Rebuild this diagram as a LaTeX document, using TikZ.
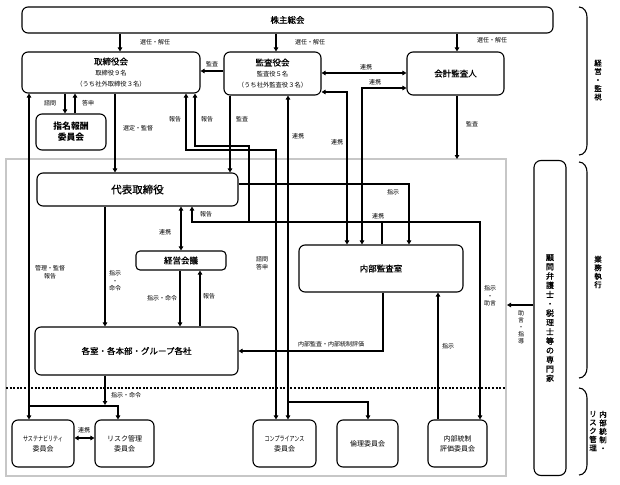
\documentclass[tikz,border=0pt]{standalone}
\usepackage{fontspec}
\setmainfont{Noto Sans CJK JP}
\newfontfamily\narrowjp{Noto Sans CJK JP}[FakeStretch=0.72]
\newfontfamily\semijp{Noto Sans CJK JP}[FakeBold=0.8]
\usetikzlibrary{arrows.meta}
\begin{document}
\begin{tikzpicture}[x=1pt,y=-1pt,
  box/.style={draw, line width=1.1pt, rounded corners=6pt, align=center, inner sep=0pt},
  lab/.style={font=\fontsize{6}{7.5}\selectfont, inner sep=0pt, align=center},
  vlab/.style={inner sep=0pt, align=center},
  ln/.style={line width=1.1pt},
  arr/.style={line width=1.1pt, -{Triangle[length=4pt,width=4.5pt]}},
  darr/.style={line width=1.1pt, {Triangle[length=4pt,width=4.5pt]}-{Triangle[length=4pt,width=4.5pt]}},
  ttl/.style={font=\semijp\fontsize{8.5}{10}\selectfont},
  cmt/.style={font=\fontsize{7}{10}\selectfont}]
\useasboundingbox (0,0) rectangle (620,484);

% frame and separator
\draw[black!22, line width=1.5pt] (6,159) rectangle (506,476);
\draw[line width=2pt, dash pattern=on 2pt off 1.6pt] (6,388) -- (506,388);

% nodes
\node[box, minimum width=531pt, minimum height=26pt, ttl] (sh) at (287.5,20) {株主総会};
\node[box, minimum width=178pt, minimum height=41pt] (bod) at (111,72.5)
  {{\semijp\fontsize{8.5}{10}\selectfont 取締役会}\\[-1pt]{\fontsize{6.3}{8}\selectfont 取締役９名}\\[-1pt]{\fontsize{6.3}{8}\selectfont （うち社外取締役３名）}};
\node[box, minimum width=97pt, minimum height=43pt] (kansa) at (272.5,73.5)
  {{\semijp\fontsize{8.5}{10}\selectfont 監査役会}\\[-1pt]{\fontsize{6.3}{8}\selectfont 監査役５名}\\[-1pt]{\fontsize{6.3}{8}\selectfont （うち社外監査役３名）}};
\node[box, minimum width=97pt, minimum height=43pt, ttl] (kaikei) at (455.5,73.5) {会計監査人};
\node[box, minimum width=70pt, minimum height=36pt, font=\fontsize{8.8}{11}\selectfont\bfseries] (shimei) at (71,132) {指名報酬\\委員会};
\node[box, minimum width=201pt, minimum height=33pt, font=\semijp\fontsize{10.5}{12}\selectfont] (dai) at (137.5,189.5) {代表取締役};
\node[box, minimum width=90pt, minimum height=19pt, rounded corners=4pt, ttl] (keiei) at (181,260.5) {経営会議};
\node[box, minimum width=203pt, minimum height=48pt, ttl] (kak) at (136.5,351) {各室・各本部・グループ各社};
\node[box, minimum width=164pt, minimum height=47pt, ttl] (naibu) at (381,268.5) {内部監査室};
\node[box, minimum width=62pt, minimum height=47pt, cmt] (sus) at (43,443.5) {{\narrowjp サステナビリティ}\\委員会};
\node[box, minimum width=59pt, minimum height=47pt, cmt] (risk) at (124.5,443.5) {リスク管理\\委員会};
\node[box, minimum width=63pt, minimum height=47pt, cmt] (comp) at (284.5,443.5) {{\narrowjp コンプライアンス}\\委員会};
\node[box, minimum width=61pt, minimum height=47pt, cmt] (rinri) at (367.5,443.5) {倫理委員会};
\node[box, minimum width=59pt, minimum height=47pt, cmt] (naitou) at (457.5,443.5) {内部統制\\評価委員会};
\node[box, minimum width=32pt, minimum height=315pt, rounded corners=7pt,
  font=\semijp\fontsize{8}{9.3}\selectfont] (exp) at (550,318)
  {顧\\問\\弁\\護\\士\\・\\税\\理\\士\\等\\の\\専\\門\\家};

% shareholders
\draw[arr] (120,0 |- sh.south) -- (120,0 |- bod.north);
\draw[arr] (276,0 |- sh.south) -- (276,0 |- kansa.north);
\draw[arr] (457,0 |- sh.south) -- (457,0 |- kaikei.north);
\node[lab] (l1) at (155,42) {選任・解任};
\node[lab] (l2) at (310,42) {選任・解任};
\node[lab] (l3) at (492,40) {選任・解任};

% board <-> nomination
\draw[arr] (65,0 |- bod.south) -- (65,0 |- shimei.north);
\draw[arr] (75,0 |- shimei.north) -- (75,0 |- bod.south);
\node[lab] (l4) at (50,103) {諮問};
\node[lab] (l5) at (88,103) {答申};

% audit board -> board
\draw[arr] (kansa.west |- 0,71) -- (bod.east |- 0,71);
\node[lab] (l6) at (212,64) {監査};

% board -> representative
\draw[arr] (115,0 |- bod.south) -- (115,0 |- dai.north);
\node[lab] (l7) at (138,128) {選定・監督};

% board <-> sustainability / risk
\draw[darr] (29,0 |- bod.south) -- (29,0 |- sus.north);
\draw[arr] (29,406) -- (118,406) -- (118,0 |- risk.north);
\node[lab] (l8) at (50,272) {管理・監督\\報告};

% board <-> compliance
\draw[darr] (186,0 |- bod.south) -- (186,150) -- (276,150) -- (276,0 |- comp.north);
\node[lab] (l9) at (175,119) {報告};
\node[lab] (l10) at (262,263) {諮問\\答申};

% internal audit reporting
\draw[arr] (249,222) -- (249,146) -- (195,146) -- (195,0 |- bod.south);
\draw[arr] (382,0 |- naibu.north) -- (382,222) -- (192,222) -- (192,0 |- dai.south);
\draw[arr] (382,222) -- (480,222) -- (480,0 |- naitou.north);
\node[lab] (l11) at (207,119) {報告};
\node[lab] (l12) at (206,214) {報告};
\node[lab] (l13) at (378,216) {連携};
\node[lab] (l14) at (490,296) {指示\\・\\助言};

% audit board -> representative
\draw[arr] (230,0 |- kansa.south) -- (230,0 |- dai.north);
\node[lab] (l15) at (242,119) {監査};

% audit board <-> compliance / ethics
\draw[darr] (288,0 |- kansa.south) -- (288,0 |- comp.north);
\draw[arr] (288,402) -- (368,402) -- (368,0 |- rinri.north);
\node[lab] (l16) at (298,136) {連携};

% audit board <-> accounting auditor
\draw[darr] (kansa.east |- 0,73) -- (kaikei.west |- 0,73);
\node[lab] (l17) at (366,67) {連携};

% audit board <-> internal audit
\draw[darr] (kansa.east |- 0,92) -- (347,92) -- (347,0 |- naibu.north);
\node[lab] (l18) at (337,142) {連携};

% accounting auditor <-> internal audit
\draw[darr] (kaikei.west |- 0,88) -- (362,88) -- (362,0 |- naibu.north);
\node[lab] (l19) at (375,82) {連携};

% accounting auditor audit
\coordinate (ftop) at (457,159);
\draw[arr] (457,0 |- kaikei.south) -- (ftop);
\node[lab] (l20) at (472,124) {監査};

% representative -> internal audit
\draw[arr] (dai.east |- 0,184) -- (409,184) -- (409,0 |- naibu.north);
\node[lab] (l21) at (393,192) {指示};

% representative <-> management meeting
\draw[darr] (181,0 |- dai.south) -- (181,0 |- keiei.north);
\node[lab] (l22) at (165,232) {連携};

% management meeting <-> divisions
\draw[arr] (180,0 |- keiei.south) -- (180,0 |- kak.north);
\draw[arr] (200,0 |- kak.north) -- (200,0 |- keiei.south);
\node[lab] (l23) at (162,298) {指示・命令};
\node[lab] (l24) at (209,296) {報告};

% representative -> divisions
\draw[arr] (105,0 |- dai.south) -- (105,0 |- kak.north);
\node[lab] (l25) at (115,281) {指示\\・\\命令};

% divisions -> committees
\draw[arr] (105,0 |- kak.south) -- (105,405);
\node[lab] (l26) at (126,395) {指示・命令};

% internal audit -> divisions
\draw[arr] (383,0 |- naibu.south) -- (383,351) -- (kak.east |- 0,351);
\node[lab] (l27) at (331,344) {内部監査・内部統制評価};

% internal control committee -> internal audit
\draw[arr] (438,0 |- naitou.north) -- (438,0 |- naibu.south);
\node[lab] (l28) at (448,346) {指示};

% sustainability <-> risk
\draw[darr] (sus.east |- 0,438) -- (risk.west |- 0,438);
\node[lab] (l29) at (84,430) {連携};

% experts
\coordinate (fright) at (507,305);
\draw[arr] (exp.west |- 0,305) -- (fright);
\node[vlab, font=\fontsize{6}{7}\selectfont] (l30) at (521,327) {助\\言\\・\\指\\導};

% braces
\draw[ln] (579,7) to[out=0,in=90] (587,17) -- (587,145) to[out=-90,in=0] (579,155);
\draw[ln] (579,162) to[out=0,in=90] (587,172) -- (587,368) to[out=-90,in=0] (579,378);
\draw[ln] (579,388) to[out=0,in=90] (587,398) -- (587,465) to[out=-90,in=0] (579,475);
\node[vlab, font=\semijp\fontsize{7.5}{8.5}\selectfont] (b1) at (598,80) {経\\営\\・\\監\\視};
\node[vlab, font=\semijp\fontsize{7.5}{8.5}\selectfont] (b2) at (598,272) {業\\務\\執\\行};
\node[vlab, font=\semijp\fontsize{7.5}{8.5}\selectfont] (b3) at (603,431) {内\\部\\統\\制\\・};
\node[vlab, font=\semijp\fontsize{7.5}{8.5}\selectfont] (b4) at (593,431) {リ\\ス\\ク\\管\\理};
\end{tikzpicture}
\end{document}
